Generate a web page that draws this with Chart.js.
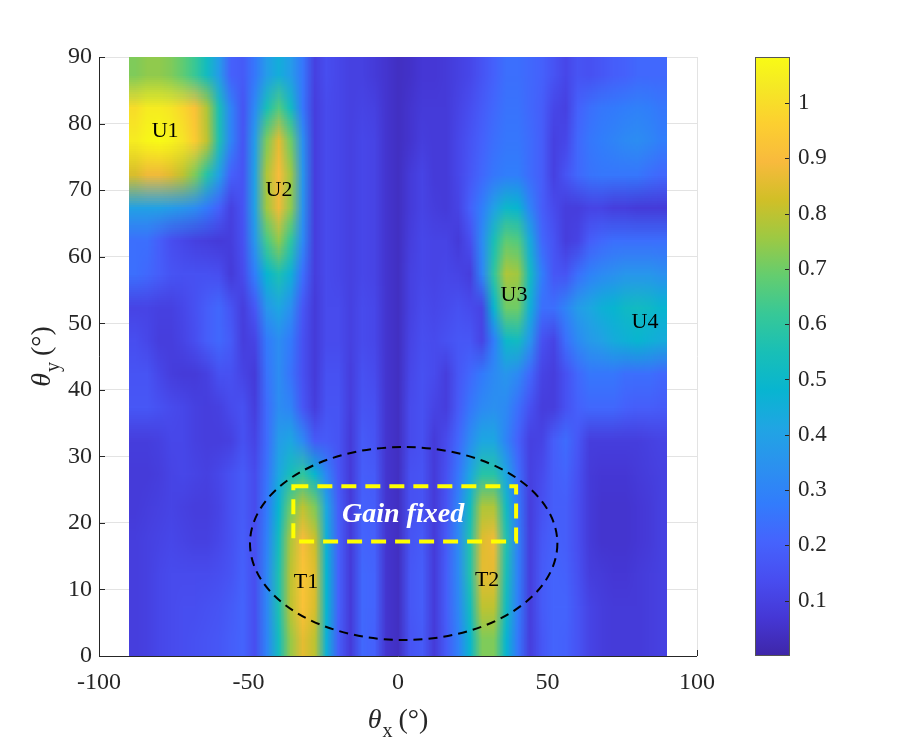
<!DOCTYPE html>
<html>
<head>
<meta charset="utf-8">
<script src="https://cdn.jsdelivr.net/npm/chart.js@4.4.0/dist/chart.umd.min.js"></script>
<style>
  html, body { margin: 0; padding: 0; background: #fff; }
  #wrap { position: relative; width: 906px; height: 751px; }
  #main { position: absolute; left: 0; top: 0; }
  #cbar { position: absolute; left: 700px; top: 0; }
</style>
</head>
<body>
<div id="wrap">
  <canvas id="main" width="906" height="751"></canvas>
  <canvas id="cbar" width="206" height="751"></canvas>
</div>
<script>
// beam gain map over (theta_x, theta_y), cells

// cell centres (deg)
const thetaX = [-88, -84, -80, -76, -72, -68, -64, -60, -56, -52, -48, -44, -40, -36, -32,
  -28, -24, -20, -16, -12, -8, -4, 0, 4, 8, 12, 16, 20, 24, 28,
  32, 36, 40, 44, 48, 52, 56, 60, 64, 68, 72, 76, 80, 84, 88];
const thetaY = [87.5, 82.5, 77.5, 72.5, 67.5, 62.5, 57.5, 52.5, 47.5,
  42.5, 37.5, 32.5, 27.5, 22.5, 17.5, 12.5, 7.5, 2.5];

// normalised gain, one row per thetaY (top row first), one value per thetaX
const gain = [
  [.72,.74,.74,.72,.68,.62,.52,.38,.20,.18,.26,.38,.45,.38,.26,.10,.14,.12,.10,.10,.08,.06,.04,.05,.07,.07,.08,.10,.12,.16,.20,.24,.24,.22,.20,.16,.12,.16,.15,.17,.19,.20,.22,.22,.22],
  [1.00,1.04,1.04,1.02,.98,.92,.78,.55,.30,.16,.32,.55,.66,.52,.26,.09,.13,.12,.10,.11,.10,.06,.04,.06,.08,.08,.08,.11,.14,.18,.22,.25,.25,.22,.19,.12,.10,.20,.24,.26,.27,.28,.29,.28,.26],
  [1.04,1.07,1.08,1.06,1.02,.95,.80,.56,.30,.16,.38,.72,.86,.70,.34,.09,.13,.12,.10,.12,.11,.06,.04,.06,.09,.08,.08,.12,.16,.20,.24,.26,.26,.23,.19,.10,.12,.22,.26,.28,.30,.32,.33,.31,.28],
  [.84,.88,.88,.85,.80,.72,.58,.40,.20,.16,.40,.78,.90,.76,.36,.09,.13,.12,.10,.12,.11,.06,.04,.08,.11,.08,.08,.12,.17,.22,.26,.28,.28,.23,.19,.10,.16,.22,.25,.26,.26,.26,.26,.24,.22],
  [.40,.40,.40,.38,.36,.33,.27,.20,.10,.16,.40,.76,.88,.74,.35,.09,.13,.12,.10,.12,.11,.06,.04,.08,.11,.09,.08,.11,.20,.28,.40,.50,.48,.30,.19,.13,.09,.09,.11,.11,.09,.09,.08,.08,.08],
  [.24,.24,.19,.14,.12,.10,.09,.08,.09,.15,.36,.64,.74,.60,.32,.09,.13,.12,.10,.12,.11,.06,.04,.09,.12,.11,.11,.08,.14,.32,.55,.68,.66,.44,.22,.16,.09,.11,.19,.22,.24,.24,.24,.24,.24],
  [.24,.22,.19,.16,.15,.15,.15,.14,.08,.13,.28,.48,.56,.46,.24,.09,.13,.12,.10,.12,.11,.06,.04,.10,.12,.11,.12,.11,.09,.30,.60,.78,.76,.52,.28,.17,.16,.24,.29,.32,.34,.36,.36,.36,.34],
  [.11,.11,.10,.10,.12,.15,.19,.22,.16,.09,.17,.36,.42,.34,.17,.08,.13,.13,.10,.13,.12,.06,.04,.10,.13,.12,.13,.15,.13,.11,.48,.70,.70,.46,.24,.24,.30,.38,.42,.46,.48,.51,.52,.51,.48],
  [.14,.12,.09,.09,.11,.14,.19,.22,.18,.09,.11,.27,.33,.27,.15,.08,.13,.13,.10,.13,.12,.06,.04,.11,.14,.13,.15,.17,.17,.11,.28,.50,.52,.36,.15,.11,.24,.32,.37,.40,.44,.46,.48,.46,.44],
  [.16,.16,.12,.09,.08,.08,.10,.15,.15,.11,.08,.25,.33,.25,.15,.08,.15,.15,.09,.15,.13,.06,.04,.12,.15,.13,.09,.17,.22,.27,.32,.36,.32,.22,.11,.09,.15,.22,.26,.26,.26,.24,.24,.24,.22],
  [.17,.17,.15,.13,.12,.10,.09,.10,.13,.15,.09,.23,.33,.30,.17,.09,.16,.16,.09,.16,.15,.06,.04,.13,.15,.11,.09,.18,.26,.32,.34,.32,.24,.15,.09,.09,.15,.20,.22,.22,.22,.20,.19,.19,.18],
  [.09,.09,.10,.12,.12,.10,.09,.09,.10,.15,.11,.23,.38,.42,.32,.18,.18,.16,.08,.18,.16,.06,.04,.13,.15,.08,.13,.22,.33,.42,.42,.30,.20,.10,.11,.19,.23,.17,.09,.09,.09,.09,.09,.10,.11],
  [.08,.08,.09,.11,.12,.11,.10,.12,.15,.18,.13,.25,.42,.54,.60,.48,.30,.17,.08,.19,.18,.06,.04,.15,.16,.08,.15,.26,.42,.58,.58,.42,.24,.10,.13,.19,.21,.15,.08,.07,.07,.07,.08,.09,.10],
  [.08,.09,.10,.11,.10,.09,.09,.11,.15,.18,.13,.27,.48,.70,.80,.72,.42,.19,.08,.20,.19,.06,.04,.15,.16,.08,.16,.30,.52,.78,.78,.52,.27,.09,.15,.19,.19,.14,.08,.06,.06,.06,.07,.08,.10],
  [.09,.10,.11,.12,.11,.10,.10,.12,.15,.19,.14,.29,.53,.78,.90,.82,.46,.20,.08,.21,.20,.06,.04,.16,.18,.08,.18,.32,.57,.85,.88,.57,.29,.09,.17,.20,.19,.14,.08,.06,.06,.06,.07,.08,.10],
  [.09,.10,.12,.13,.13,.13,.13,.14,.16,.20,.14,.31,.56,.80,.93,.85,.48,.20,.08,.22,.21,.06,.04,.17,.19,.08,.19,.32,.57,.86,.86,.55,.29,.09,.18,.21,.20,.15,.09,.08,.07,.07,.08,.09,.10],
  [.09,.10,.12,.13,.14,.14,.15,.16,.18,.21,.14,.31,.56,.80,.92,.84,.48,.20,.08,.22,.21,.06,.04,.17,.19,.08,.19,.31,.53,.80,.80,.52,.28,.09,.18,.21,.21,.16,.11,.09,.08,.08,.08,.09,.10],
  [.09,.10,.12,.13,.14,.15,.16,.17,.19,.21,.14,.30,.53,.75,.86,.80,.46,.19,.08,.22,.20,.06,.04,.16,.18,.08,.18,.29,.49,.72,.72,.48,.26,.09,.17,.21,.20,.16,.11,.09,.08,.08,.08,.09,.10]
];

const xTicks = [-100, -50, 0, 50, 100];
const yTicks = [0, 10, 20, 30, 40, 50, 60, 70, 80, 90];
const cbTicks = [0.1, 0.2, 0.3, 0.4, 0.5, 0.6, 0.7, 0.8, 0.9, 1];
const cbMax = 1.083;

const beamNames = ['U1', 'U2', 'U3', 'U4', 'T1', 'T2'];
const beamX = [-77.9, -39.8, 38.8, 82.6, -30.8, 29.8];
const beamY = [78.9, 70.0, 54.2, 50.2, 11.1, 11.4];

// annotations, in axis units
const zone = { cx: 1.9, cy: 16.9, rx: 51.4, ry: 14.5 };
const fixedBox = { x0: -35, x1: 39.5, y0: 17.2, y1: 25.5, tx: 1.7, ty: 21.2 };

// parula (MATLAB), [t, r, g, b]
const parulaStops = [
  [0, 62, 38, 168], [0.0635, 69, 55, 213], [0.127, 72, 77, 240], [0.1905, 69, 99, 253],
  [0.254, 50, 124, 252], [0.3175, 43, 145, 239], [0.381, 32, 165, 227], [0.444, 8, 181, 208],
  [0.508, 25, 191, 182], [0.571, 55, 200, 151], [0.635, 100, 205, 111], [0.698, 157, 201, 67],
  [0.762, 209, 191, 39], [0.825, 248, 186, 61], [0.889, 252, 207, 48], [0.952, 245, 233, 36],
  [1, 249, 251, 21]
];

function parulaRGB(v) {
  const t = Math.min(1, Math.max(0, v / cbMax));
  for (let i = 1; i < parulaStops.length; i++) {
    const a = parulaStops[i - 1], b = parulaStops[i];
    if (t <= b[0]) {
      const f = (t - a[0]) / (b[0] - a[0]);
      return [1, 2, 3].map(k => Math.round(a[k] + (b[k] - a[k]) * f));
    }
  }
  return [249, 251, 21];
}

const SERIF = '"Liberation Serif", "Times New Roman", serif';
const AXIS_INK = '#262626';

// one texel per cell; the browser scales it up smoothly (like shading interp)
function buildGainImage() {
  const img = document.createElement('canvas');
  img.width = thetaX.length; img.height = thetaY.length;
  const ictx = img.getContext('2d');
  const data = ictx.createImageData(img.width, img.height);
  gain.forEach((row, r) => row.forEach((v, c) => {
    const [R, G, B] = parulaRGB(v), o = (r * img.width + c) * 4;
    data.data[o] = R; data.data[o + 1] = G; data.data[o + 2] = B; data.data[o + 3] = 255;
  }));
  ictx.putImageData(data, 0, 0);
  return img;
}
const gainImage = buildGainImage();

// θ with a subscript, then " (°)", centred on (0, 0) with baseline at 0
function drawAngleTitle(ctx, sub) {
  const big = `28px ${SERIF}`, it = `italic 28px ${SERIF}`, small = `20px ${SERIF}`;
  ctx.font = it; const w1 = ctx.measureText('θ').width;
  ctx.font = small; const w2 = ctx.measureText(sub).width;
  ctx.font = big; const w3 = ctx.measureText(' (°)').width;
  let x = -(w1 + w2 + w3) / 2;
  ctx.textAlign = 'left'; ctx.textBaseline = 'alphabetic';
  ctx.font = it; ctx.fillText('θ', x, 0); x += w1 + 1;
  ctx.font = small; ctx.fillText(sub, x, 9); x += w2 - 1;
  ctx.font = big; ctx.fillText(' (°)', x, 0);
}

const heatmapPlugin = {
  id: 'heatmap',
  beforeDatasetsDraw(chart) {
    const { ctx, chartArea: a, scales: { x, y } } = chart;
    ctx.save();
    // inward ticks sit under the image, as in the figure
    ctx.strokeStyle = AXIS_INK; ctx.lineWidth = 1;
    ctx.beginPath();
    yTicks.forEach(v => { const py = Math.round(y.getPixelForValue(v)) + 0.5; ctx.moveTo(a.left, py); ctx.lineTo(a.left + 6, py); });
    xTicks.forEach(v => { const px = Math.round(x.getPixelForValue(v)) + 0.5; ctx.moveTo(px, a.bottom); ctx.lineTo(px, a.bottom - 6); });
    ctx.stroke();

    const hw = (thetaX[1] - thetaX[0]) / 2, hh = (thetaY[0] - thetaY[1]) / 2;
    const x0 = x.getPixelForValue(thetaX[0] - hw), x1 = x.getPixelForValue(thetaX[thetaX.length - 1] + hw);
    const y0 = y.getPixelForValue(thetaY[0] + hh), y1 = y.getPixelForValue(thetaY[thetaY.length - 1] - hh);
    ctx.imageSmoothingEnabled = true;
    ctx.drawImage(gainImage, x0, y0, x1 - x0, y1 - y0);
    ctx.restore();
  },
  afterDatasetsDraw(chart) {
    const { ctx, scales: { x, y } } = chart;
    ctx.save();
    // coverage ellipse
    ctx.strokeStyle = '#000'; ctx.lineWidth = 2; ctx.setLineDash([9, 6]);
    ctx.beginPath();
    ctx.ellipse(x.getPixelForValue(zone.cx), y.getPixelForValue(zone.cy),
      x.getPixelForValue(zone.cx + zone.rx) - x.getPixelForValue(zone.cx),
      y.getPixelForValue(zone.cy) - y.getPixelForValue(zone.cy + zone.ry), 0, 0, Math.PI * 2);
    ctx.stroke();
    // gain fixed box
    const bx0 = x.getPixelForValue(fixedBox.x0), bx1 = x.getPixelForValue(fixedBox.x1);
    const by0 = y.getPixelForValue(fixedBox.y1), by1 = y.getPixelForValue(fixedBox.y0);
    ctx.strokeStyle = '#ffff00'; ctx.lineWidth = 4; ctx.setLineDash([15, 9]);
    ctx.strokeRect(bx0, by0, bx1 - bx0, by1 - by0);
    ctx.setLineDash([]);
    ctx.fillStyle = '#fff'; ctx.font = `bold italic 28px ${SERIF}`;
    ctx.textAlign = 'center'; ctx.textBaseline = 'middle';
    ctx.fillText('Gain fixed', x.getPixelForValue(fixedBox.tx), y.getPixelForValue(fixedBox.ty));
    // beam labels
    ctx.fillStyle = '#000'; ctx.font = `22px ${SERIF}`;
    beamNames.forEach((n, i) => ctx.fillText(n, x.getPixelForValue(beamX[i]), y.getPixelForValue(beamY[i])));
    ctx.restore();
  },
  afterDraw(chart) {
    const { ctx, chartArea: a } = chart;
    ctx.save();
    ctx.strokeStyle = AXIS_INK; ctx.lineWidth = 1;
    ctx.beginPath();
    ctx.moveTo(a.left + 0.5, a.top); ctx.lineTo(a.left + 0.5, a.bottom + 0.5); ctx.lineTo(a.right, a.bottom + 0.5);
    ctx.stroke();
    ctx.fillStyle = AXIS_INK;
    ctx.save(); ctx.translate((a.left + a.right) / 2, 728); drawAngleTitle(ctx, 'x'); ctx.restore();
    ctx.save(); ctx.translate(50, (a.top + a.bottom) / 2); ctx.rotate(-Math.PI / 2); drawAngleTitle(ctx, 'y'); ctx.restore();
    ctx.restore();
  }
};

new Chart(document.getElementById('main'), {
  type: 'scatter',
  data: { datasets: [{ data: [] }] },
  plugins: [heatmapPlugin],
  options: {
    responsive: false, devicePixelRatio: 1, animation: false,
    layout: { padding: { left: 0, right: 209, top: 57, bottom: 0 } },
    plugins: { legend: { display: false }, tooltip: { enabled: false } },
    scales: {
      x: {
        type: 'linear', min: -100, max: 100,
        afterBuildTicks: s => { s.ticks = xTicks.map(v => ({ value: v })); },
        afterFit: s => { s.height = 95; },
        grid: { color: '#e3e3e3', drawTicks: false },
        border: { display: false },
        ticks: { color: AXIS_INK, font: { family: SERIF, size: 24 }, padding: 12, maxRotation: 0 }
      },
      y: {
        type: 'linear', min: 0, max: 90,
        afterBuildTicks: s => { s.ticks = yTicks.map(v => ({ value: v })); },
        afterFit: s => { s.width = 99; },
        grid: { color: '#e3e3e3', drawTicks: false },
        border: { display: false },
        ticks: { color: AXIS_INK, font: { family: SERIF, size: 24 }, padding: 7 }
      }
    }
  }
});

const colorbarPlugin = {
  id: 'colorbarFill',
  beforeDatasetsDraw(chart) {
    const { ctx, chartArea: a, scales: { y } } = chart;
    ctx.save();
    const g = ctx.createLinearGradient(0, y.getPixelForValue(0), 0, y.getPixelForValue(cbMax));
    parulaStops.forEach(s => g.addColorStop(s[0], `rgb(${s[1]},${s[2]},${s[3]})`));
    ctx.fillStyle = g;
    ctx.fillRect(a.left, a.top, a.width, a.height);
    ctx.strokeStyle = AXIS_INK; ctx.lineWidth = 1;
    ctx.beginPath();
    cbTicks.forEach(v => { const py = Math.round(y.getPixelForValue(v)) + 0.5; ctx.moveTo(a.right, py); ctx.lineTo(a.right - 5, py); });
    ctx.stroke();
    ctx.strokeStyle = '#555';
    ctx.strokeRect(a.left + 0.5, a.top + 0.5, a.width - 1, a.height - 1);
    ctx.restore();
  }
};

new Chart(document.getElementById('cbar'), {
  type: 'scatter',
  data: { datasets: [{ data: [] }] },
  plugins: [colorbarPlugin],
  options: {
    responsive: false, devicePixelRatio: 1, animation: false,
    layout: { padding: { left: 55, right: 0, top: 57, bottom: 95 } },
    plugins: { legend: { display: false }, tooltip: { enabled: false } },
    scales: {
      x: { display: false, min: 0, max: 1 },
      y: {
        position: 'right', min: 0, max: cbMax,
        afterBuildTicks: s => { s.ticks = cbTicks.map(v => ({ value: v })); },
        afterFit: s => { s.width = 116; },
        grid: { display: false, drawTicks: false },
        border: { display: false },
        ticks: { color: AXIS_INK, font: { family: SERIF, size: 23 }, padding: 8, callback: v => String(v) }
      }
    }
  }
});
</script>
</body>
</html>
